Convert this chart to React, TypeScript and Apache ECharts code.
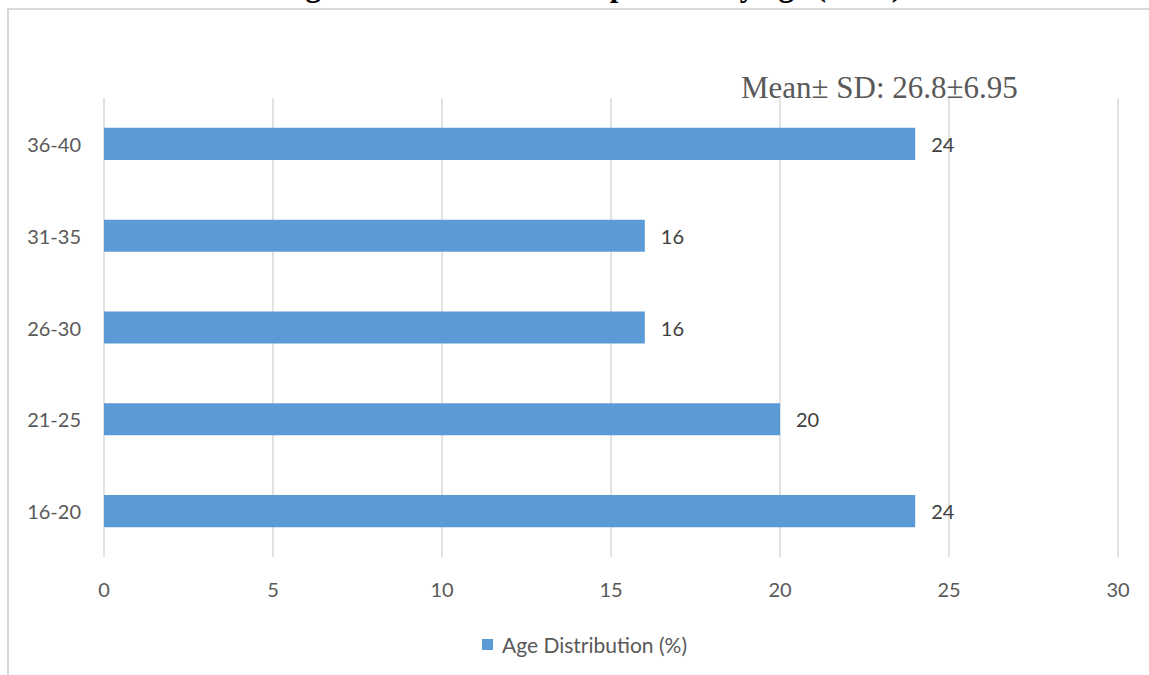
import React, { useEffect, useRef } from "react";
import * as echarts from "echarts";

const categories = ["16-20", "21-25", "26-30", "31-35", "36-40"];
const ageDistribution = [24, 20, 16, 16, 24];
const seriesName = "Age Distribution (%)";
const titleText = "Figure 1: Distribution of patients by age (n=25)";
const noteText = "Mean\u00b1 SD: 26.8\u00b16.95";
const axisMin = 0;
const axisMax = 30;
const axisInterval = 5;

export default function App() {
  const ref = useRef<HTMLDivElement>(null);
  useEffect(() => {
    document.body.style.margin = "0";
    const chart = echarts.init(ref.current!, null, { renderer: "svg" });
    chart.setOption({
      animation: false,
      backgroundColor: "#ffffff",
      textStyle: { fontFamily: "Lato" },
      grid: { left: 104, right: 31, top: 98, bottom: 118, containLabel: false },
      xAxis: {
        type: "value",
        min: axisMin,
        max: axisMax,
        interval: axisInterval,
        axisLine: { show: false },
        axisTick: { show: false },
        axisLabel: { color: "#595959", fontSize: 20, fontFamily: "Lato", margin: 22 },
        splitLine: { show: true, lineStyle: { color: "#d9d9d9", width: 1.5 } },
      },
      yAxis: {
        type: "category",
        data: categories,
        axisLine: { show: false },
        axisTick: { show: false },
        axisLabel: { color: "#595959", fontSize: 20, fontFamily: "Lato", margin: 23 },
      },
      legend: {
        show: true,
        left: 477,
        top: 629,
        icon: "rect",
        itemWidth: 11,
        itemHeight: 11,
        textStyle: { color: "#595959", fontSize: 21, fontFamily: "Lato", padding: [0, 0, 0, 4] },
        data: [seriesName],
      },
      series: [
        {
          name: seriesName,
          type: "bar",
          data: ageDistribution,
          barCategoryGap: "65%",
          itemStyle: { color: "#5b9bd5" },
          label: {
            show: true,
            position: "right",
            distance: 16,
            color: "#404040",
            fontSize: 20,
            fontFamily: "Lato",
          },
        },
      ],
      graphic: [
        {
          type: "rect",
          shape: { x: 8, y: 9, width: 1300, height: 800 },
          style: { fill: "none", stroke: "#d9d9d9", lineWidth: 2 },
          silent: true,
          z: -1,
        },
        {
          type: "text",
          x: 278,
          y: -15,
          style: {
            text: titleText,
            font: "bold 31px 'Liberation Serif'",
            fill: "#000000",
            textAlign: "left",
            textVerticalAlign: "middle",
          },
        },
        {
          type: "text",
          x: 741,
          y: 87,
          style: {
            text: noteText,
            font: "31px 'Liberation Serif'",
            fill: "#595959",
            textAlign: "left",
            textVerticalAlign: "middle",
          },
        },
      ],
    });
    return () => chart.dispose();
  }, []);
  return <div ref={ref} style={{ width: 1149, height: 675 }} />;
}
